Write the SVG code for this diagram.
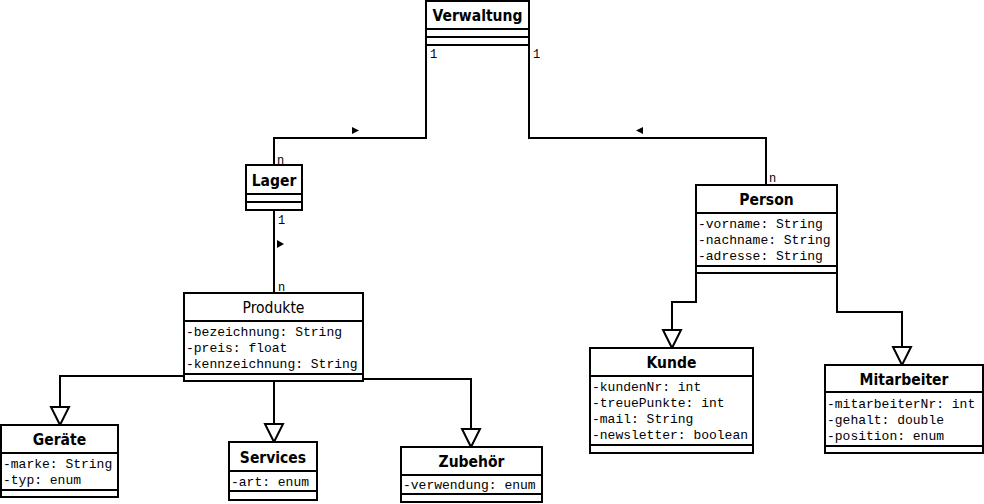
<svg xmlns="http://www.w3.org/2000/svg" width="984" height="504" viewBox="0 0 984 504">
<style>
.box{fill:#fff;stroke:#000;stroke-width:2}
.sep{stroke:#000;stroke-width:2}
.t{font-family:"DejaVu Sans Condensed","DejaVu Sans",sans-serif;font-stretch:condensed;font-size:15.5px;font-weight:bold;text-anchor:middle;fill:#000}
.tn{font-family:"DejaVu Sans Condensed","DejaVu Sans",sans-serif;font-stretch:condensed;font-size:15.5px;text-anchor:middle;fill:#000}
.a{font-family:"Liberation Mono","Courier New",monospace;font-size:13px;fill:#000}
.m{font-family:"Liberation Mono","DejaVu Sans Mono",monospace;font-size:12px;fill:#000}
.ln{fill:none;stroke:#000;stroke-width:2}
.gen{fill:#fff;stroke:#000;stroke-width:2;stroke-linejoin:miter}
.dir{fill:#000}
</style>
<rect width="984" height="504" fill="#fff"/>
<g id="connectors">
<path class="ln" d="M426,45 V138 H274 V165"/>
<polygon class="dir" points="352,127 359,130.5 352,134"/>
<text class="m" x="430" y="58">1</text>
<text class="m" x="277" y="164">n</text>
<path class="ln" d="M529,45 V138 H766 V185"/>
<polygon class="dir" points="643,127 636,130.5 643,134"/>
<text class="m" x="533" y="58">1</text>
<text class="m" x="769" y="182">n</text>
<path class="ln" d="M274,210 V293"/>
<polygon class="dir" points="277,240 284,244 277,248"/>
<text class="m" x="278" y="224">1</text>
<text class="m" x="278" y="291">n</text>
<path class="ln" d="M184,376 H60 V407"/>
<polygon class="gen" points="51,407 69,407 60,425"/>
<path class="ln" d="M274,381 V424"/>
<polygon class="gen" points="265,424 283,424 274,442"/>
<path class="ln" d="M363,379 H471 V429"/>
<polygon class="gen" points="462,429 480,429 471,447"/>
<path class="ln" d="M696,273 V302 H672 V330"/>
<polygon class="gen" points="663,330 681,330 672,348"/>
<path class="ln" d="M837,273 V312 H902 V347"/>
<polygon class="gen" points="893,347 911,347 902,365"/>
</g>
<g id="Verwaltung">
<rect class="box" x="426" y="1" width="103" height="44"/>
<line class="sep" x1="426" y1="29" x2="529" y2="29"/>
<line class="sep" x1="426" y1="37" x2="529" y2="37"/>
<text class="t" x="477.5" y="21">Verwaltung</text>
</g>
<g id="Lager">
<rect class="box" x="246" y="165" width="56" height="45"/>
<line class="sep" x1="246" y1="194" x2="302" y2="194"/>
<line class="sep" x1="246" y1="202" x2="302" y2="202"/>
<text class="t" x="274" y="186">Lager</text>
</g>
<g id="Produkte">
<rect class="box" x="184" y="293" width="179" height="88"/>
<line class="sep" x1="184" y1="321" x2="363" y2="321"/>
<line class="sep" x1="184" y1="374" x2="363" y2="374"/>
<text class="tn" x="273.5" y="313">Produkte</text>
<text class="a" x="186" y="336">-bezeichnung: String</text>
<text class="a" x="186" y="352">-preis: float</text>
<text class="a" x="186" y="368">-kennzeichnung: String</text>
</g>
<g id="Person">
<rect class="box" x="696" y="185" width="141" height="88"/>
<line class="sep" x1="696" y1="213" x2="837" y2="213"/>
<line class="sep" x1="696" y1="266" x2="837" y2="266"/>
<text class="t" x="766.5" y="205">Person</text>
<text class="a" x="698" y="228">-vorname: String</text>
<text class="a" x="698" y="244">-nachname: String</text>
<text class="a" x="698" y="260">-adresse: String</text>
</g>
<g id="Kunde">
<rect class="box" x="590" y="348" width="163" height="105"/>
<line class="sep" x1="590" y1="376" x2="753" y2="376"/>
<line class="sep" x1="590" y1="445" x2="753" y2="445"/>
<text class="t" x="671.5" y="368">Kunde</text>
<text class="a" x="592" y="391">-kundenNr: int</text>
<text class="a" x="592" y="407">-treuePunkte: int</text>
<text class="a" x="592" y="423">-mail: String</text>
<text class="a" x="592" y="439">-newsletter: boolean</text>
</g>
<g id="Mitarbeiter">
<rect class="box" x="825" y="365" width="158" height="88"/>
<line class="sep" x1="825" y1="392" x2="983" y2="392"/>
<line class="sep" x1="825" y1="446" x2="983" y2="446"/>
<text class="t" x="904" y="385">Mitarbeiter</text>
<text class="a" x="827" y="408">-mitarbeiterNr: int</text>
<text class="a" x="827" y="424">-gehalt: double</text>
<text class="a" x="827" y="440">-position: enum</text>
</g>
<g id="Geraete">
<rect class="box" x="1" y="425" width="117" height="72"/>
<line class="sep" x1="1" y1="453" x2="118" y2="453"/>
<line class="sep" x1="1" y1="490" x2="118" y2="490"/>
<text class="t" x="59.5" y="445">Geräte</text>
<text class="a" x="3" y="468">-marke: String</text>
<text class="a" x="3" y="484">-typ: enum</text>
</g>
<g id="Services">
<rect class="box" x="229" y="442" width="88" height="58"/>
<line class="sep" x1="229" y1="471" x2="317" y2="471"/>
<line class="sep" x1="229" y1="491" x2="317" y2="491"/>
<text class="t" x="273" y="463">Services</text>
<text class="a" x="231" y="486">-art: enum</text>
</g>
<g id="Zubehoer">
<rect class="box" x="401" y="447" width="141" height="55"/>
<line class="sep" x1="401" y1="475" x2="542" y2="475"/>
<line class="sep" x1="401" y1="494" x2="542" y2="494"/>
<text class="t" x="471.5" y="467">Zubehör</text>
<text class="a" x="403" y="489">-verwendung: enum</text>
</g>
</svg>
